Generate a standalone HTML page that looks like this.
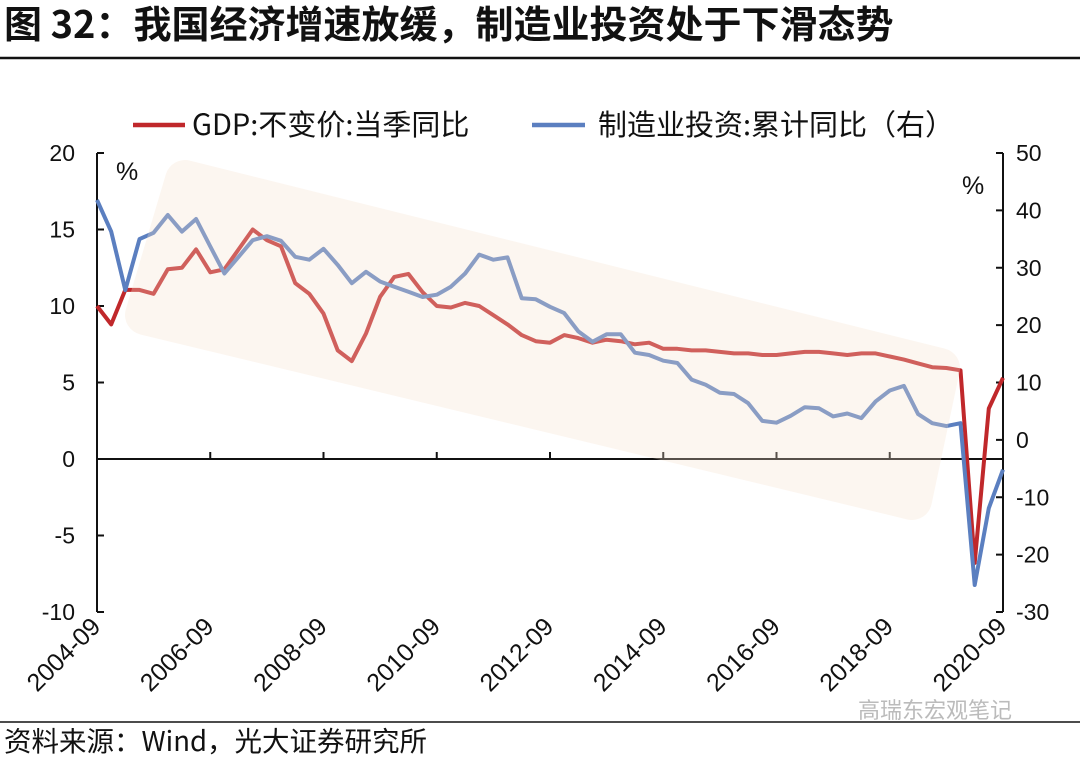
<!DOCTYPE html>
<html><head><meta charset="utf-8">
<style>
html,body{margin:0;padding:0;background:#fff;}
body{width:1080px;height:758px;overflow:hidden;font-family:"Liberation Sans","Noto Sans CJK SC",sans-serif;}
</style></head>
<body>
<svg id="chart" width="1080" height="758" xmlns="http://www.w3.org/2000/svg" style="font-family:'Liberation Sans','Noto Sans CJK SC',sans-serif">
<text x="4" y="38" font-size="38" font-weight="bold" fill="#111" font-family="'Noto Sans CJK SC',sans-serif">图 32：我国经济增速放缓，制造业投资处于下滑态势</text>
<line x1="0" y1="58" x2="1080" y2="58" stroke="#111" stroke-width="2.5"/>
<g>
<line x1="133" y1="125" x2="185" y2="125" stroke="#c0282b" stroke-width="4.5"/>
<text x="192" y="135" font-size="29" fill="#111" font-family="'Noto Sans CJK SC',sans-serif">GDP:不变价:当季同比</text>
<line x1="532" y1="125" x2="585" y2="125" stroke="#5b7fc0" stroke-width="4.5"/>
<text x="598" y="135" font-size="29" fill="#111" font-family="'Noto Sans CJK SC',sans-serif">制造业投资:累计同比（右）</text>
</g>
<text x="116" y="180" font-size="25" fill="#111">%</text>
<text x="962" y="194" font-size="25" fill="#111">%</text>
<g id="plot"></g>
<line x1="0" y1="722" x2="1080" y2="722" stroke="#111" stroke-width="1.5"/>
<text x="858" y="718" font-size="22" fill="#bbb">高瑞东宏观笔记</text>
<text x="4" y="751" font-size="27.5" fill="#111" font-family="'Noto Sans CJK SC',sans-serif">资料来源：Wind，光大证券研究所</text>
</svg>
<script>
const gdp=[10.0,8.8,11.05,11.05,10.8,12.4,12.5,13.7,12.2,12.4,13.7,15.0,14.3,13.9,11.5,10.8,9.5,7.1,6.4,8.2,10.6,11.9,12.1,10.9,10.0,9.9,10.2,10.0,9.4,8.8,8.1,7.7,7.6,8.1,7.9,7.6,7.8,7.7,7.5,7.6,7.2,7.2,7.1,7.1,7.0,6.9,6.9,6.8,6.8,6.9,7.0,7.0,6.9,6.8,6.9,6.9,6.7,6.5,6.25,6.0,5.95,5.8,-6.8,3.3,5.3];
const mfg=[41.8,36.3,26.1,35.0,36.1,39.2,36.3,38.5,33.7,29.0,31.9,34.8,35.5,34.7,31.9,31.4,33.3,30.5,27.3,29.3,27.6,26.7,25.8,24.9,25.3,26.7,29.0,32.3,31.4,31.8,24.7,24.5,23.2,22.1,18.9,17.1,18.4,18.4,15.2,14.8,13.8,13.4,10.5,9.6,8.2,8.0,6.4,3.3,3.0,4.2,5.7,5.5,4.1,4.6,3.8,6.7,8.6,9.4,4.5,2.9,2.4,2.9,-25.3,-11.9,-5.2];
const leftTicks=[20,15,10,5,0,-5,-10];
const rightTicks=[50,40,30,20,10,0,-10,-20,-30];
const xLabels=["2004-09","2006-09","2008-09","2010-09","2012-09","2014-09","2016-09","2018-09","2020-09"];
const X0=97,X1=1003,YT=153,YB=612;
const xq=i=>X0+(X1-X0)*i/64;
const yl=v=>YT+(20-v)*(YB-YT)/30;
const yr=v=>YT+(50-v)*(YB-YT)/80;
const NS="http://www.w3.org/2000/svg";
const plot=document.getElementById('plot');
function mk(tag,attrs,parent){const e=document.createElementNS(NS,tag);for(const k in attrs)e.setAttribute(k,attrs[k]);(parent||plot).appendChild(e);return e;}
let e;
e=mk('line',{x1:X0,y1:YT,x2:X0,y2:YB,stroke:'#111','stroke-width':2});


e=mk('line',{x1:X1,y1:YT,x2:X1,y2:YB,stroke:'#111','stroke-width':2});


leftTicks.forEach(v=>{
  mk('line',{x1:X0,y1:yl(v),x2:X0+7,y2:yl(v),stroke:'#111','stroke-width':2});
  const t=mk('text',{x:75,y:yl(v)+8,'font-size':23,'text-anchor':'end',fill:'#111'});t.textContent=v;
  
  
});
rightTicks.forEach(v=>{
  mk('line',{x1:X1-7,y1:yr(v),x2:X1,y2:yr(v),stroke:'#111','stroke-width':2});
  const t=mk('text',{x:1016,y:yr(v)+8,'font-size':23,fill:'#111'});t.textContent=v;
  
  
});
e=mk('line',{x1:X0,y1:yl(0),x2:X1,y2:yl(0),stroke:'#111','stroke-width':2});


xLabels.forEach((s,k)=>{
  const x=xq(k*8);
  mk('line',{x1:x,y1:yl(0)-7,x2:x,y2:yl(0),stroke:'#111','stroke-width':2});
  const t=mk('text',{x:x+5,y:628,'font-size':25,'text-anchor':'end',fill:'#111',transform:`rotate(-45 ${x+5} 628)`});t.textContent=s;
  
  
});
function series(arr,yf,color,name){
  const d=arr.map((v,i)=>(i?'L':'M')+xq(i).toFixed(1)+','+yf(v).toFixed(1)).join('');
  const p=mk('path',{d:d,fill:'none',stroke:color,'stroke-width':4,'stroke-linejoin':'round'});
  
  
}
series(gdp,yl,'#c0282b','gdp-line');
series(mfg,yr,'#5b7fc0','manufacturing-investment-line');
e=mk('polygon',{points:'185,180 940,368 912,500 145,315',fill:'#f7e2cf',stroke:'#f7e2cf','stroke-width':40,'stroke-linejoin':'round',opacity:0.3});


</script>
</body></html>
